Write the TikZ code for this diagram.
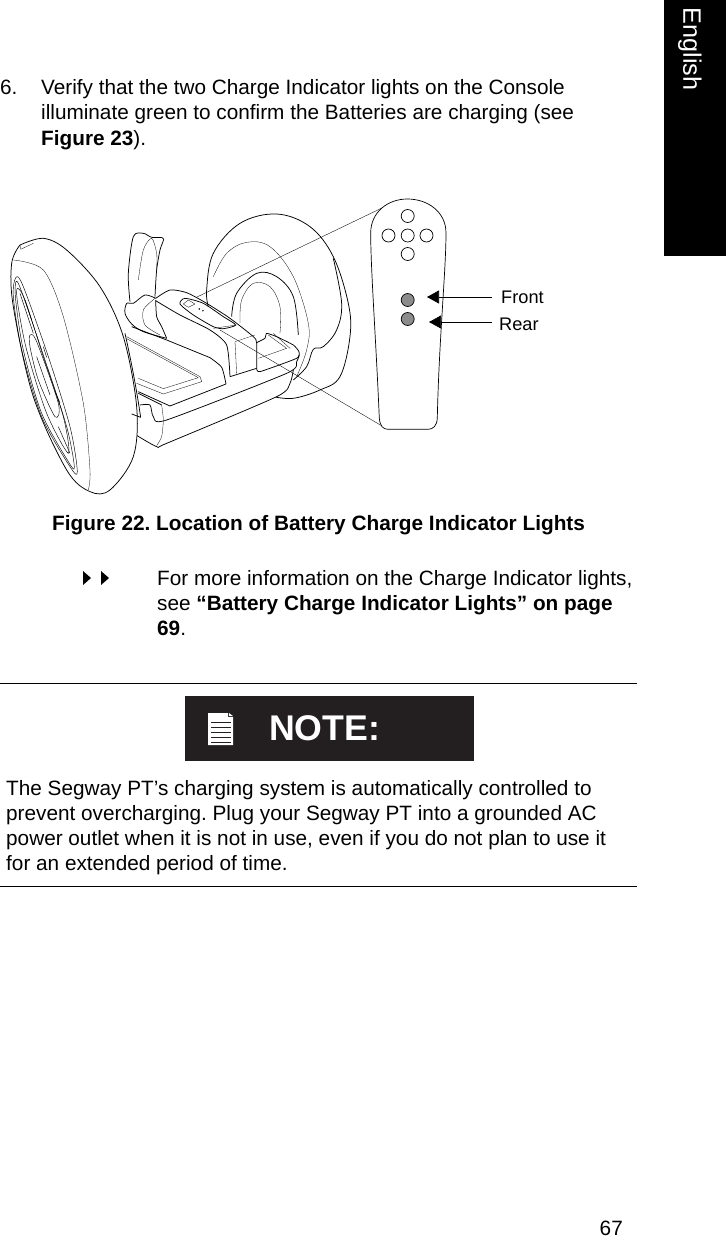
\documentclass[tikz,border=0pt]{standalone}
\usepackage{fontspec}
\setmainfont{Liberation Sans}
\usetikzlibrary{arrows.meta}
\tikzstyle{bodytext} = [anchor=north west, inner sep=0pt, align=left, font=\frenchspacing\fontsize{20.75}{25.2}\selectfont]
\tikzstyle{lamp} = [circle, minimum size=13pt, inner sep=0pt, draw=black, line width=.7pt, fill=white]
\tikzstyle{lamplit} = [lamp, fill=black!45]
\tikzstyle{arrow} = [-{Triangle[length=12pt,width=13pt]}, line width=.7pt]
\tikzstyle{leader} = [line width=.35pt]
\tikzstyle{heavy} = [line width=.75pt, line join=round]
\tikzstyle{thin} = [line width=.3pt, line join=round]
\tikzstyle{tread} = [line width=.45pt, line join=round]
\tikzstyle{rulerline} = [line width=.8pt]
\tikzstyle{calllabel} = [anchor=west, inner sep=0pt, font=\fontsize{18.2}{20}\selectfont]
\definecolor{noteblack}{HTML}{231F20}

\begin{document}
\begin{tikzpicture}[x=1pt,y=-1pt]
\useasboundingbox (0,0) rectangle (726,1237);
\fill[white] (0,0) rectangle (726,1237);

%side tab
\fill[black] (664,0) rectangle (726,256);
\node (tab) [rotate=-90, text=white, inner sep=0pt, font=\fontsize{25.2}{27}\selectfont] at (690,49) {English};

%top text
\node (num) [bodytext] at (0,79.5) {6.};
\node (para) [bodytext] at (41,79.5) {Verify that the two Charge Indicator lights on the Console\\illuminate green to confirm the Batteries are charging (see\\\textbf{Figure 23}).};

%scooter, coordinates are 3x finer here
\begin{scope}[shift={(0,190)},x=.3333pt,y=-.3333pt]
%far wheel
\draw[heavy,fill=white] plot[smooth,tension=.6] coordinates {(820,620) (880,625) (960,600) (1020,560) (1050,440) (1045,340) (1000,200) (930,110) (830,72) (720,100) (640,190) (620,300) (625,350)};
\draw[heavy] plot[smooth,tension=.6] coordinates {(1000,205) (1025,340) (1010,420) (970,470) (940,478) (920,530) (880,570)};
\draw[thin] plot[smooth,tension=.6] coordinates {(640,260) (680,190) (740,157) (810,170) (880,260) (925,400) (920,480) (890,560)};
\draw[heavy] plot[smooth,tension=.6] coordinates {(695,380) (710,310) (770,250) (830,260) (880,320) (895,435)};
\draw[thin] plot[smooth,tension=.6] coordinates {(720,400) (725,330) (760,280) (810,290) (840,350) (840,430)};
%stalk
\draw[heavy,fill=white] plot[smooth,tension=.5] coordinates {(390,335) (385,250) (400,140) (430,130) (455,142) (490,145) (480,180) (470,240) (465,320)};
\draw[thin] plot[smooth,tension=.5] coordinates {(415,270) (430,180) (455,145) (470,190) (470,240)};
\end{scope}

\begin{scope}[shift={(120,280)},x=.3333pt,y=-.3333pt]
%base
\fill[white] (15,100) -- (20,70) -- (107,55) -- (150,30) -- (400,170) -- (440,160) -- (530,205) -- (535,240) -- (510,310) -- (470,350) -- (140,490) -- (110,500) -- (40,460) -- (15,170) -- cycle;
\draw[heavy] plot[smooth,tension=.4] coordinates {(40,460) (110,500) (140,490) (470,350) (510,310) (520,270)};
\draw[heavy] plot[smooth,tension=.4] coordinates {(60,375) (90,375) (100,410) (140,420) (500,280) (530,245) (538,225)};
\draw[heavy] (55,340) -- (125,375);
\draw[thin] plot[smooth,tension=.4] coordinates {(125,375) (130,420) (125,470) (110,497)};
\draw[heavy] (55,335) -- (150,378) -- (318,312);
\draw[thin] (20,170) -- (240,290) -- (245,305) -- (130,342) -- (50,310);
\draw[thin] (20,176) -- (235,293) -- (130,326) -- (55,295);
%right deck
\draw[heavy] plot[smooth,tension=.3] coordinates {(410,265) (420,275) (530,235) (537,215) (520,195) (470,170) (440,160) (435,175) (410,188)};
\draw[thin] (445,165) -- (500,205) -- (415,235);
\draw[thin] (460,160) -- (510,205);
%collar
\draw[heavy] plot[smooth,tension=.5] coordinates {(107,55) (75,45) (40,70) (20,70) (15,100) (35,132) (70,155) (140,175)};
\draw[thin] plot[smooth,tension=.5] coordinates {(105,55) (70,90) (75,135) (120,165)};
\draw[heavy] (35,140) -- (140,180) -- (270,233);
%console
\draw[heavy] plot[smooth,tension=.4] coordinates {(107,55) (150,30) (200,38) (260,70) (330,115) (400,170) (410,190) (410,265)};
\draw[heavy] plot[smooth,tension=.4] coordinates {(107,62) (180,105) (270,150) (320,195) (330,290)};
\draw[heavy] plot[smooth,tension=.4] coordinates {(107,60) (110,110) (125,140) (140,175)};
\draw[heavy] plot[smooth,tension=.4] coordinates {(270,233) (305,262) (318,312)};
\draw[heavy] (330,290) -- (410,265);
\draw[thin] (345,185) -- (350,280);
\draw[thin] (345,185) -- (405,165);
\draw[thin] (280,145) -- (350,135);
\draw[heavy] plot[smooth cycle,tension=.4] coordinates {(180,72) (195,55) (250,70) (310,110) (347,135) (310,146) (280,140) (220,105)};
\draw[thin] (190,72) -- (205,60) -- (225,72) -- (205,82) -- cycle;
\fill (238,87) circle (2.5);
\fill (249,92) circle (2.5);
\end{scope}

\begin{scope}[shift={(0,190)},x=.3333pt,y=-.3333pt]
%near wheel
\draw[heavy,fill=white] plot[smooth,tension=.55] coordinates {(60,165) (130,145) (200,180) (300,290) (370,440) (410,650) (400,800) (330,900) (270,905) (200,840) (100,620) (40,350) (35,220) (60,165)};
\draw[heavy] (375,430) .. controls (395,520) and (410,600) .. (422,682) -- (395,672);
\draw[thin] plot[smooth,tension=.5] coordinates {(40,210) (130,240) (190,380) (250,640) (270,840) (265,900)};
\draw[thin] (60,165) -- (62,178) -- (100,160);
\end{scope}

\begin{scope}[shift={(5,270)},x=.3333pt,y=-.3333pt]
%tread
\draw[tread] plot[smooth cycle,tension=.5] coordinates {(33,22) (55,50) (130,260) (195,470) (217,605) (195,590) (110,440) (50,240) (25,80)};
\draw[tread] plot[smooth cycle,tension=.5] coordinates {(33,35) (50,65) (120,270) (185,470) (208,590) (190,575) (110,430) (55,240) (32,90)};
\draw[tread] plot[smooth cycle,tension=.5] coordinates {(37,55) (60,90) (115,260) (175,440) (190,550) (125,430) (65,240) (38,100)};
\draw[tread] plot[smooth cycle,tension=.5] coordinates {(75,195) (95,215) (160,400) (150,440) (100,330) (75,230)};
\draw[tread] (95,260) -- (135,375);
\draw[tread] (45,70) -- (85,190);
\draw[tread] (60,90) -- (80,150);
\draw[tread] (115,230) -- (125,262);
\draw[tread] (150,365) -- (165,398);
\draw[tread] (160,470) -- (195,550);
\end{scope}

%console close-up
\coordinate (upfrom) at (197,297);
\coordinate (downfrom) at (220,330);
\coordinate (upto) at (384,207);
\coordinate (downto) at (382,426);
\draw[leader] (upfrom) -- (upto);
\draw[leader] (downfrom) -- (downto);
\draw[line width=.7pt, fill=white] (379.3,418) .. controls (376,340) and (370.7,270) .. (370.7,233) .. controls (370.7,212) and (388,199) .. (407.3,199) .. controls (428,199) and (446,212) .. (446,233) .. controls (446,270) and (439,340) .. (437.3,418) .. controls (437,426) and (433,429.3) .. (428,429.3) -- (388,429.3) .. controls (383,429.3) and (380,426) .. (379.3,418) -- cycle;
\node (top) [lamp] at (407.7,216) {};
\node (left) [lamp] at (388.5,235.5) {};
\node (mid) [lamp] at (407.7,235.5) {};
\node (right) [lamp] at (426.5,235.5) {};
\node (low) [lamp] at (407.7,254) {};
\node (frontlamp) [lamplit] at (407.7,300) {};
\node (rearlamp) [lamplit] at (407.7,319) {};

\node (frontlabel) [calllabel] at (501,297.5) {Front};
\node (rearlabel) [calllabel] at (499,324) {Rear};
\coordinate (fronttail) at (492,297);
\coordinate (reartail) at (492,322);
\coordinate (fronttip) at (427,297);
\coordinate (reartip) at (429,322);
\draw [arrow] (fronttail) -- (fronttip);
\draw [arrow] (reartail) -- (reartip);

%caption
\node (caption) [anchor=west, inner sep=0pt, font=\frenchspacing\bfseries\fontsize{20.8}{24}\selectfont] at (52,525.5) {Figure 22. Location of Battery Charge Indicator Lights};

%see also
\fill (83,571) -- (91,578) -- (83,585) -- cycle;
\fill (101,571) -- (109,578) -- (101,585) -- cycle;
\node (more) [bodytext] at (157,570.3) {For more information on the Charge Indicator lights,\\see \textbf{“Battery Charge Indicator Lights” on page}\\\textbf{69}.};

%note
\draw[rulerline] (0,683) -- (637,683);
\fill[noteblack] (185,696) rectangle (474,761);
\fill[white] (208,713) -- (228,713) -- (228,717) -- (233,717) -- (233,745) -- (208,745) -- cycle;
\fill[white] (229,713) -- (233,716) -- (229,716) -- cycle;
\foreach \ypos in {722,727,732,737,742}
  \draw[noteblack, line width=.9pt] (211,\ypos) -- (231,\ypos);
\node (notehead) [anchor=west, inner sep=0pt, text=white, font=\bfseries\fontsize{35.7}{38}\selectfont] at (269,728) {NOTE:};
\node (notetext) [bodytext] at (6,780) {The Segway PT’s charging system is automatically controlled to\\prevent overcharging. Plug your Segway PT into a grounded AC\\power outlet when it is not in use, even if you do not plan to use it\\for an extended period of time.};
\draw[rulerline] (0,886) -- (637,886);

\node (pagenum) [anchor=base east, inner sep=0pt, font=\fontsize{20.75}{24}\selectfont] at (623,1235.5) {67};
\end{tikzpicture}
\end{document}
